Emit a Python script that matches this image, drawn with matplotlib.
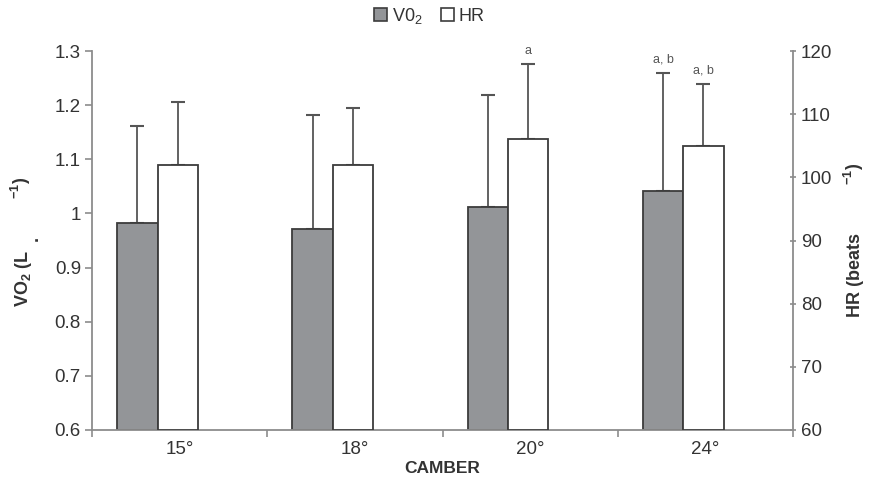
import matplotlib
matplotlib.use("Agg")
import matplotlib.pyplot as plt
import numpy as np
from matplotlib.patches import Patch

plt.rcParams['font.family'] = ['Liberation Sans', 'DejaVu Sans']
plt.rcParams['mathtext.fontset'] = 'custom'
plt.rcParams['mathtext.rm'] = 'Liberation Sans'
plt.rcParams['mathtext.bf'] = 'Liberation Sans:bold'
plt.rcParams['mathtext.it'] = 'Liberation Sans'

# ---- data ----
categories = ['15°', '18°', '20°', '24°']
vo2_mean = [0.982, 0.972, 1.011, 1.041]
vo2_sd = [0.179, 0.209, 0.208, 0.219]
hr_mean = [101.9, 101.9, 106.1, 104.9]
hr_sd = [10.0, 9.1, 11.8, 9.9]
vo2_marks = ['', '', '', 'a, b']
hr_marks = ['', '', 'a', 'a, b']

TEXT = '#333333'
SPINE = '#8c8c8c'
EDGE = '#3c3c3c'
ERR = '#555555'
FS = 13.5

fig = plt.figure(figsize=(8.76, 4.83), dpi=100)
ax = fig.add_axes([92/876, 1-430/483, (793-92)/876, (430-51)/483])
ax2 = ax.twinx()

x = np.arange(len(categories))
w = 0.23
x_vo2 = x - 0.126 - w/2
x_hr = x - 0.126 + w/2

ax.bar(x_vo2, [m - 0.6 for m in vo2_mean], bottom=0.6, width=w, color='#939598',
       edgecolor=EDGE, linewidth=1.3, zorder=2)
ax.errorbar(x_vo2, vo2_mean, yerr=[[0]*4, vo2_sd], fmt='none', ecolor=ERR,
            elinewidth=1.3, capsize=5, capthick=1.5, zorder=1)
ax2.bar(x_hr, [m - 60 for m in hr_mean], bottom=60, width=w, color='white',
        edgecolor=EDGE, linewidth=1.3, zorder=2)
ax2.errorbar(x_hr, hr_mean, yerr=[[0]*4, hr_sd], fmt='none', ecolor=ERR,
             elinewidth=1.3, capsize=5, capthick=1.5, zorder=1)

for xi, m, s, t in zip(x_vo2, vo2_mean, vo2_sd, vo2_marks):
    if t:
        ax.annotate(t, (xi, m + s), xytext=(0, 5), textcoords='offset points',
                    ha='center', va='bottom', fontsize=9, color='#555555')
for xi, m, s, t in zip(x_hr, hr_mean, hr_sd, hr_marks):
    if t:
        ax2.annotate(t, (xi, m + s), xytext=(0, 5), textcoords='offset points',
                     ha='center', va='bottom', fontsize=9, color='#555555')

ax.set_xlim(-0.5, len(categories) - 0.5)
ax.set_ylim(0.6, 1.3)
ax2.set_ylim(60, 120)
ax.set_yticks(np.arange(0.6, 1.31, 0.1))
ax.set_yticklabels(['0.6', '0.7', '0.8', '0.9', '1', '1.1', '1.2', '1.3'])
ax2.set_yticks(np.arange(60, 121, 10))

ax.set_xticks(x)
ax.set_xticklabels(categories)
ax.set_xticks(np.arange(-0.5, len(categories), 1), minor=True)
ax.tick_params(axis='x', which='major', length=0, pad=8, labelsize=FS, labelcolor=TEXT)
ax.tick_params(axis='x', which='minor', length=5, width=1.2, color=SPINE, direction='out')
ax.tick_params(axis='y', length=5, width=1.2, color=SPINE, direction='out',
               labelsize=FS, labelcolor=TEXT, pad=3)
ax2.tick_params(axis='y', length=5, width=1.2, color=SPINE, direction='inout',
                labelsize=FS, labelcolor=TEXT, pad=3)

for a in (ax, ax2):
    a.spines['top'].set_visible(False)
    for s in ('left', 'right', 'bottom'):
        a.spines[s].set_color(SPINE)
        a.spines[s].set_linewidth(1.3)
ax.spines['right'].set_visible(False)
ax2.spines['left'].set_visible(False)
ax2.spines['bottom'].set_visible(False)

ax.set_xlabel('CAMBER', fontsize=12.5, fontweight='bold', color=TEXT, labelpad=2)

# left axis label (rendered in pieces as in the original)
lab = dict(rotation=90, ha='center', va='center', fontsize=13, fontweight='bold', color=TEXT)
fig.text(23/876, 1-278/483, r'VO$_\mathbf{2}$ (L', **lab)
fig.text(33/876, 1-238/483, '.', **lab)
fig.text(21/876, 1-188/483, r'$^{\mathbf{-1}}$)', **lab)
# right axis label
fig.text(856/876, 1-275/483, 'HR (beats', **lab)
fig.text(854/876, 1-174/483, r'$^{\mathbf{-1}}$)', **lab)

handles = [Patch(facecolor='#939598', edgecolor=EDGE, linewidth=1.2),
           Patch(facecolor='white', edgecolor=EDGE, linewidth=1.2)]
fig.legend(handles, ['V0$_2$', 'HR'], loc='center', bbox_to_anchor=(0.49, 1-16/483),
           ncol=2, frameon=False, fontsize=13, handlelength=0.75, handleheight=0.75,
           handletextpad=0.25, columnspacing=1.0, labelcolor=TEXT)

fig.savefig('out.png', dpi=100)
